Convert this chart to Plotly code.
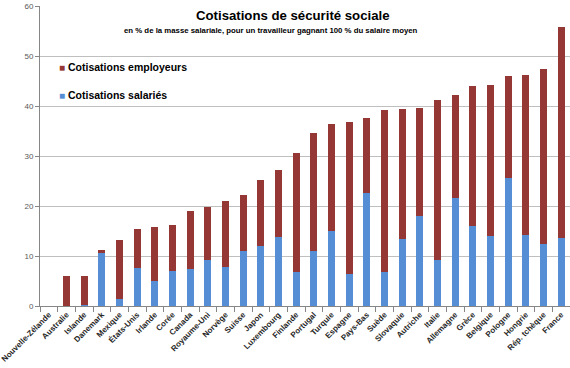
import plotly.graph_objects as go

countries = ["Nouvelle-Zélande", "Australie", "Islande", "Danemark", "Mexique", "États-Unis",
             "Irlande", "Corée", "Canada", "Royaume-Uni", "Norvège", "Suisse", "Japon",
             "Luxembourg", "Finlande", "Portugal", "Turquie", "Espagne", "Pays-Bas", "Suède",
             "Slovaquie", "Autriche", "Italie", "Allemagne", "Grèce", "Belgique", "Pologne",
             "Hongrie", "Rép. tchèque", "France"]

salaries = [0, 0, 0.2, 10.7, 1.4, 7.7, 5.1, 7.1, 7.4, 9.2, 7.8, 11.1, 12.1, 13.9, 6.8, 11.0,
            15.0, 6.5, 22.7, 6.9, 13.4, 18.1, 9.2, 21.7, 16.1, 14.0, 25.7, 14.3, 12.5, 13.6]

employeurs = [0, 6.0, 5.8, 0.6, 11.8, 7.8, 10.8, 9.2, 11.7, 10.7, 13.3, 11.1, 13.2, 13.4,
              23.9, 23.7, 21.4, 30.4, 14.9, 32.3, 26.1, 21.6, 32.1, 20.5, 27.9, 30.3, 20.4,
              32.0, 35.0, 42.3]

y_ticks = [0, 10, 20, 30, 40, 50, 60]

RED = "#953735"
BLUE = "#558ED5"
FONT = "Liberation Sans, Arial, sans-serif"

fig = go.Figure()
fig.add_trace(go.Bar(x=countries, y=salaries, name="Cotisations salariés",
                     marker=dict(color=BLUE, line=dict(width=0))))
fig.add_trace(go.Bar(x=countries, y=employeurs, name="Cotisations employeurs",
                     marker=dict(color=RED, line=dict(width=0))))

fig.update_layout(
    barmode="stack",
    bargap=0.59,
    width=570, height=368,
    margin=dict(l=40, r=0, t=6, b=62),
    paper_bgcolor="white", plot_bgcolor="white",
    font=dict(family=FONT, color="#000000"),
    showlegend=False,
    annotations=[
        dict(text="<b>Cotisations de sécurité sociale</b>", x=0.477, y=0.967, xref="paper",
             yref="paper", xanchor="center", yanchor="middle", showarrow=False,
             font=dict(family=FONT, size=13.2, color="#000")),
        dict(text="<b>en % de la masse salariale, pour un travailleur gagnant 100 % du salaire moyen</b>",
             x=0.436, y=0.917, xref="paper", yref="paper", xanchor="center", yanchor="middle",
             showarrow=False, font=dict(family=FONT, size=7.8, color="#000")),
        dict(text=f"<span style='color:{RED};font-size:10px'>■</span> <b>Cotisations employeurs</b>",
             x=0.032, y=0.797, xref="paper", yref="paper", xanchor="left", yanchor="middle",
             showarrow=False, font=dict(family=FONT, size=10.5, color="#000")),
        dict(text=f"<span style='color:{BLUE};font-size:10px'>■</span> <b>Cotisations salariés</b>",
             x=0.032, y=0.703, xref="paper", yref="paper", xanchor="left", yanchor="middle",
             showarrow=False, font=dict(family=FONT, size=10.5, color="#000")),
    ],
)

fig.update_yaxes(range=[0, 60], tickvals=y_ticks, showgrid=True, gridcolor="#BFBFBF",
                 gridwidth=1, showline=True, linecolor="#868686", ticks="outside",
                 ticklen=4, tickcolor="#868686",
                 tickfont=dict(family=FONT, size=8, color="#595959"), zeroline=False)
fig.update_xaxes(showline=True, linecolor="#868686", ticks="outside", tickson="boundaries",
                 ticklen=5, tickcolor="#868686", tickangle=-45,
                 tickfont=dict(family=FONT, size=8, color="#262626", weight="bold"))

fig.write_html("out.html", config={"displayModeBar": False},
               post_script="document.body.style.margin='0';")
